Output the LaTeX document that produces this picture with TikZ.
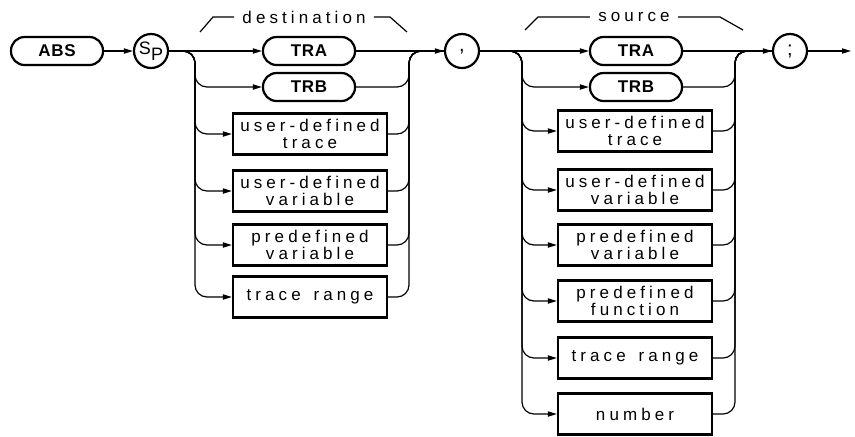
\documentclass[tikz,border=0pt]{standalone}
\usepackage{fontspec}
\setsansfont{Liberation Sans}
\newfontfamily\hpfont[LetterSpace=24]{Liberation Sans}
\newfontfamily\hpkey[LetterSpace=4]{Liberation Sans}
\usetikzlibrary{positioning,arrows.meta}

\begin{document}
\begin{tikzpicture}[x=0.5pt, y=-0.5pt,
  keyword/.style={draw, line width=1.1pt, rounded corners=6.8pt, minimum width=46pt, minimum height=14pt, inner sep=0pt, font=\hpkey\bfseries\fontsize{8.5}{8.5}\selectfont},
  entry/.style={draw, line width=1.1pt, minimum width=77pt, minimum height=20.5pt, inner sep=0pt, align=center, font=\hpfont\fontsize{8.5}{8.3}\selectfont},
  symb/.style={circle, draw, line width=1.1pt, minimum size=17pt, inner sep=0pt, font=\hpfont\fontsize{9}{9}\selectfont},
  group/.style={inner sep=4pt, font=\hpfont\fontsize{8.5}{8.5}\selectfont},
  bracket/.style={line width=0.6pt},
  flow/.style={-{Triangle[length=4.5pt,width=2.6pt]}, line width=0.6pt, rounded corners=6pt},
  mergeline/.style={line width=0.6pt, rounded corners=6pt}]
\useasboundingbox (0,0) rectangle (855,436);

\node[keyword] (abs) at (57,51) {ABS};
\node[symb] (sp) at (151,51) {S\raisebox{-0.6ex}{P}};

\node[keyword] (dtra) at (309,51) {TRA};
\node[keyword] (dtrb) at (309,87) {TRB};
\node[entry] (dudt) at (310,134) {user-defined\\trace};
\node[entry] (dudv) at (310,191) {user-defined\\variable};
\node[entry] (dpv) at (310,245) {predefined\\variable};
\node[entry] (dtr) at (310,297) {trace\hspace{2pt} range};

\node[symb] (comma) at (462,51) {\fontsize{10}{10}\selectfont\smash{,}};

\node[keyword] (stra) at (636,51) {TRA};
\node[keyword] (strb) at (636,87) {TRB};
\node[entry] (sudt) at (635,131) {user-defined\\trace};
\node[entry] (sudv) at (635,190) {user-defined\\variable};
\node[entry] (spv) at (635,245) {predefined\\variable};
\node[entry] (spf) at (635,301) {predefined\\function};
\node[entry] (str) at (635,358) {trace\hspace{2pt} range};
\node[entry] (snum) at (635,414) {number};

\node[symb] (semi) at (790,51) {\fontsize{10}{10}\selectfont;};

\coordinate (dsplit) at (195,51);
\coordinate (dmerge) at (409,51);
\coordinate (ssplit) at (522,51);
\coordinate (smerge) at (735,51);
\coordinate (out) at (851,51);

\node[group] (dlabel) at (304,17) {destination};
\node[group] (slabel) at (634,17) {source};
\draw[bracket] (200,32) -- (213,17) -- (dlabel.west);
\draw[bracket] (dlabel.east) -- (390,17) -- (407,32);
\draw[bracket] (525,30) -- (538,17) -- (slabel.west);
\draw[bracket] (slabel.east) -- (720,17) -- (743,30);

\draw[flow] (abs) -- (sp);
\draw[flow] (sp) -- (dtra);
\foreach \n in {dtrb,dudt,dudv,dpv,dtr}
  \draw[flow] (sp.east) -- (dsplit) |- (\n);
\foreach \n in {dtrb,dudt,dudv,dpv,dtr}
  \draw[mergeline] (\n) -| (dmerge) -- (comma);
\draw[flow] (dtra) -- (comma);

\draw[flow] (comma) -- (stra);
\foreach \n in {strb,sudt,sudv,spv,spf,str,snum}
  \draw[flow] (comma.east) -- (ssplit) |- (\n);
\foreach \n in {strb,sudt,sudv,spv,spf,str,snum}
  \draw[mergeline] (\n) -| (smerge) -- (semi);
\draw[flow] (stra) -- (semi);
\draw[flow] (semi) -- (out);
\end{tikzpicture}
\end{document}
